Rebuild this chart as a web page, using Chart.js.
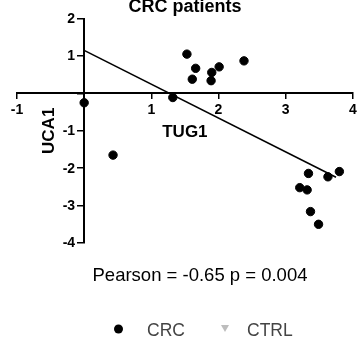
<!DOCTYPE html>
<html lang="en">
<head>
  <meta charset="UTF-8" />
  <title>CRC patients</title>
  <script src="https://cdn.jsdelivr.net/npm/chart.js"></script>
  <style>
    body { margin: 0; background: #fff; }
    .wrap { width: 358px; height: 339px; position: relative; }
  </style>
</head>
<body>
  <div class="wrap"><canvas id="corr"></canvas></div>

  <script>
    // CRC patients: TUG1 (x) vs UCA1 (y)
    const tug1 = [0.00, 0.43, 1.32, 1.53, 1.66, 1.61, 1.90, 1.89, 2.01, 2.38,
                  3.34, 3.63, 3.80, 3.21, 3.32, 3.37, 3.49];
    const uca1 = [-0.25, -1.65, -0.11, 1.05, 0.67, 0.38, 0.56, 0.34, 0.71, 0.87,
                  -2.14, -2.23, -2.09, -2.52, -2.58, -3.16, -3.50];
    // fitted line end points
    const fitX = [0, 3.75];
    const fitY = [1.15, -2.24];
    const xTicks = [-1, 0, 1, 2, 3, 4];
    const yTicks = [-4, -3, -2, -1, 0, 1, 2];
    const seriesNames = ['CRC', 'CTRL'];
    const statsText = 'Pearson = -0.65 p = 0.004';

    const FONT = "'Liberation Sans', Arial, sans-serif";

    const textPlugin = {
      id: 'textPlugin',
      afterDraw(chart) {
        const ctx = chart.ctx;
        const area = chart.chartArea;
        const xs = chart.scales.x, ys = chart.scales.y;
        const cx = (area.left + area.right) / 2;
        const cy = (area.top + area.bottom) / 2;
        ctx.save();
        ctx.fillStyle = '#000';

        // y tick labels, left of the crossing axis
        ctx.font = 'bold 14px ' + FONT;
        ctx.textAlign = 'right';
        ctx.textBaseline = 'middle';
        const axisX = xs.getPixelForValue(0);
        yTicks.forEach(v => {
          if (v !== 0) ctx.fillText(String(v), axisX - 9, ys.getPixelForValue(v) + 0.5);
        });

        ctx.textAlign = 'center';
        ctx.font = 'bold 18px ' + FONT;
        ctx.textBaseline = 'alphabetic';
        ctx.fillText('CRC patients', cx, 12);

        ctx.font = 'bold 17px ' + FONT;
        ctx.textBaseline = 'middle';
        ctx.fillText('TUG1', cx, 132);

        ctx.save();
        ctx.translate(49, cy);
        ctx.rotate(-Math.PI / 2);
        ctx.fillText('UCA1', 0, 0);
        ctx.restore();

        ctx.font = '18.5px ' + FONT;
        ctx.textBaseline = 'alphabetic';
        ctx.fillText(statsText, 200, 281);

        // legend
        const sets = chart.data.datasets;
        ctx.font = '17.5px ' + FONT;
        ctx.textAlign = 'left';
        ctx.fillStyle = sets[0].backgroundColor;
        ctx.beginPath();
        ctx.arc(118.5, 329, 4.5, 0, Math.PI * 2);
        ctx.fill();
        ctx.fillStyle = '#444';
        ctx.fillText(sets[0].label, 147, 335.5);

        ctx.fillStyle = sets[1].backgroundColor;
        ctx.beginPath();
        ctx.moveTo(221, 325);
        ctx.lineTo(229, 325);
        ctx.lineTo(225, 332);
        ctx.closePath();
        ctx.fill();
        ctx.fillStyle = '#444';
        ctx.fillText(sets[1].label, 247, 335.5);
        ctx.restore();
      }
    };

    const noPad = (scale) => {
      scale.paddingLeft = 0; scale.paddingRight = 0;
      scale.paddingTop = 0; scale.paddingBottom = 0;
    };

    new Chart(document.getElementById('corr'), {
      type: 'scatter',
      data: {
        datasets: [
          {
            label: seriesNames[0],
            data: tug1.map((x, i) => ({ x: x, y: uca1[i] })),
            backgroundColor: '#000',
            borderColor: '#000',
            pointRadius: 4.2,
            pointHoverRadius: 4.2
          },
          {
            label: seriesNames[1],
            data: [],
            backgroundColor: '#bdbdbd',
            borderColor: '#bdbdbd',
            pointStyle: 'triangle',
            pointRotation: 180
          },
          {
            label: 'fit',
            data: fitX.map((x, i) => ({ x: x, y: fitY[i] })),
            showLine: true,
            borderColor: '#000',
            borderWidth: 1.6,
            pointRadius: 0
          }
        ]
      },
      options: {
        responsive: true,
        maintainAspectRatio: false,
        animation: false,
        layout: { padding: { left: 17, right: 3, top: 18.6, bottom: 96 } },
        plugins: { legend: { display: false }, tooltip: { enabled: false } },
        scales: {
          x: {
            type: 'linear',
            position: { y: 0 },
            min: xTicks[0],
            max: xTicks[xTicks.length - 1],
            afterBuildTicks: (s) => { s.ticks = xTicks.map(v => ({ value: v })); },
            afterFit: noPad,
            border: { color: '#000', width: 2 },
            grid: { drawOnChartArea: false, color: '#000', lineWidth: 1.5, tickLength: 5 },
            ticks: {
              color: '#000',
              font: { family: FONT, size: 14, weight: 'bold' },
              padding: 3,
              maxRotation: 0,
              autoSkip: false,
              callback: (v) => v === 0 ? '' : v
            }
          },
          y: {
            type: 'linear',
            position: { x: 0 },
            min: yTicks[0],
            max: yTicks[yTicks.length - 1],
            afterBuildTicks: (s) => { s.ticks = yTicks.map(v => ({ value: v })); },
            afterFit: noPad,
            border: { color: '#000', width: 2 },
            grid: { drawOnChartArea: false, color: '#000', lineWidth: 1.5, tickLength: 6 },
            ticks: { display: false }
          }
        }
      },
      plugins: [textPlugin]
    });
  </script>
</body>
</html>
